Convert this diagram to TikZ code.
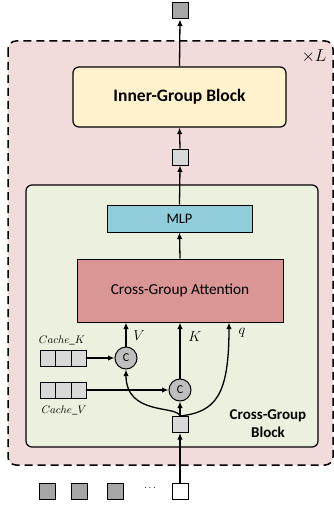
\documentclass[tikz,border=0pt]{standalone}
\usepackage{fontspec}
\setmainfont{Carlito}
\usetikzlibrary{arrows.meta,positioning,calc}
\definecolor{outerpink}{HTML}{F2DCDB}
\definecolor{greenbg}{HTML}{EBF1DE}
\definecolor{yellowbg}{HTML}{FFF2CC}
\definecolor{mlpblue}{HTML}{92CDDC}
\definecolor{attred}{HTML}{D99694}
\definecolor{lightgray}{HTML}{D9D9D9}
\definecolor{darkgray}{HTML}{A6A6A6}
\definecolor{circgray}{HTML}{BFBFBF}
\tikzset{
  arr/.style={-{Latex[length=6.5pt,width=5.5pt]},line width=1.3pt},
  tok/.style={draw,line width=1pt,minimum width=16pt,minimum height=16pt,inner sep=0pt},
  cell/.style={draw,line width=1pt,fill=lightgray,minimum width=15.7pt,minimum height=16pt,inner sep=0pt},
  cat/.style={draw,circle,line width=1pt,fill=circgray,minimum size=22pt,inner sep=0pt,font=\fontsize{12}{14}\selectfont},
  lab/.style={font=\fontsize{15}{17}\selectfont},
}
\begin{document}
\begin{tikzpicture}[x=1pt,y=-1pt]
\useasboundingbox (0,0) rectangle (334,508);
% outer dashed box
\draw[fill=outerpink,dash pattern=on 8pt off 5pt,line width=1.5pt,rounded corners=8pt] (8,41) rectangle (333,465);
\node[font=\fontsize{16.5}{19}\selectfont] (xl) at (314,56) {$\times L$};
% inner group block
\node[draw,line width=1.2pt,rounded corners=6pt,fill=yellowbg,minimum width=213pt,minimum height=60pt,font=\fontsize{17.5}{20}\selectfont\bfseries] (inner) at (179.5,97) {Inner-Group Block};
\node[tok,fill=darkgray] (topsq) at (180,11) {};
\node[tok,fill=lightgray] (midsq) at (180,157) {};
% cross-group block
\node[draw,line width=1.2pt,rounded corners=6pt,fill=greenbg,minimum width=292pt,minimum height=262pt] (green) at (172,316) {};
\node[draw,line width=1pt,fill=mlpblue,minimum width=145pt,minimum height=27pt,font=\fontsize{14.5}{17}\selectfont] (mlp) at (179.5,218.5) {MLP};
\node[draw,line width=1pt,fill=attred,minimum width=206pt,minimum height=63pt,font=\fontsize{15.3}{18}\selectfont] (att) at (180,290.5) {Cross-Group Attention};
\node[font=\fontsize{15}{18}\selectfont\bfseries,align=center] (cgb) at (268,424) {Cross-Group\\Block};
% concat circles
\node[cat] (c1) at (126,358) {C};
\node[cat] (c2) at (180,390) {C};
% caches
\node[cell] (k1) at (48,358) {};
\node[cell] (k2) at (63.5,358) {};
\node[cell] (k3) at (79,358) {};
\node[cell] (v1) at (48,390) {};
\node[cell] (v2) at (63.5,390) {};
\node[cell] (v3) at (79,390) {};
\node[font=\fontsize{11}{13}\selectfont] (ck) at (62,340) {$Cache\_K$};
\node[font=\fontsize{11}{13}\selectfont] (cv) at (64,410) {$Cache\_V$};
% token in block
\node[tok,fill=lightgray] (sq) at (180,424.5) {};
% bottom tokens
\node[tok,fill=darkgray] (b1) at (47,491) {};
\node[tok,fill=darkgray] (b2) at (79,491) {};
\node[tok,fill=darkgray] (b3) at (115,491) {};
\node (dots) at (150,488) {$\cdots$};
\node[tok,fill=white] (b4) at (180,491) {};
% labels
\node[lab] (lv) at (139,336) {$V$};
\node[lab] (lk) at (195,337) {$K$};
\node[lab] (lq) at (242,333) {$q$};
\coordinate (qin) at ($(att.south)+(49,0)$);
% connectors
\draw[arr] (b4.north) -- (sq.south);
\draw[arr] (sq.north) -- (c2.south);
\draw[arr] (sq.north) .. controls (177,405) and (126,416) .. (c1.south);
\draw[arr] (sq.north) .. controls (216,412) and (229,395) .. (qin);
\draw[arr] (c1.north) -- (c1.north |- att.south);
\draw[arr] (c2.north) -- (c2.north |- att.south);
\draw[arr] (k3.east) -- (c1.west);
\draw[arr] (v3.east) -- (c2.west);
\draw[arr] (att.north) -- (mlp.south);
\draw[arr] (mlp.north) -- (midsq.south);
\draw[arr] (midsq.north) -- (inner.south);
\draw[arr] (inner.north) -- (topsq.south);
\end{tikzpicture}
\end{document}
